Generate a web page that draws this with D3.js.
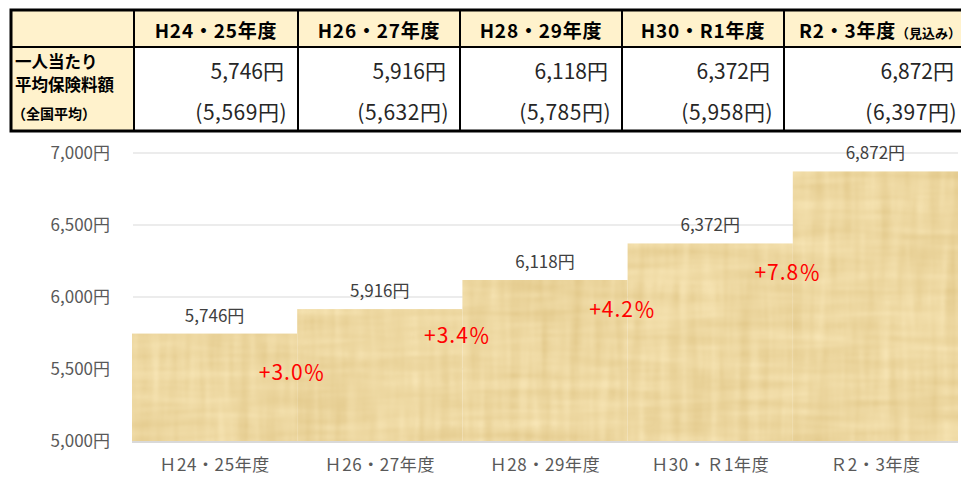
<!DOCTYPE html>
<html lang="ja">
<head>
    <meta charset="UTF-8">
    <title>一人当たり平均保険料額</title>
    <script src="https://d3js.org/d3.v7.min.js"></script>
    <style>
        body { margin: 0; background: #fff; }
        text { font-family: "Noto Sans CJK JP", "Noto Sans", sans-serif; }
        .tick text { fill: #595959; font-size: 17px; }
    </style>
</head>
<body>
<script>
    // data
    const headers = ["H24・25年度", "H26・27年度", "H28・29年度", "H30・R1年度", "R2・3年度"];
    const categories = ["Ｈ24・25年度", "Ｈ26・27年度", "Ｈ28・29年度", "Ｈ30・Ｒ1年度", "Ｒ2・3年度"];
    const premium = [5746, 5916, 6118, 6372, 6872];
    const nationalAvg = [5569, 5632, 5785, 5958, 6397];
    const growth = ["+3.0％", "+3.4％", "+4.2％", "+7.8％"];
    const yTicks = [5000, 5500, 6000, 6500, 7000];

    const width = 961, height = 478;
    const fmt = d3.format(",");

    const svg = d3.select("body").append("svg")
            .attr("width", width).attr("height", height);

    // papyrus-like texture for the bars
    const defs = svg.append("defs");
    const f = defs.append("filter").attr("id", "papyrus")
            .attr("color-interpolation-filters", "sRGB")
            .attr("x", 0).attr("y", 0).attr("width", 1).attr("height", 1);
    f.append("feTurbulence").attr("type", "fractalNoise")
            .attr("baseFrequency", "0.1 0.008").attr("numOctaves", 3).attr("seed", 4).attr("result", "v");
    f.append("feTurbulence").attr("type", "fractalNoise")
            .attr("baseFrequency", "0.008 0.1").attr("numOctaves", 3).attr("seed", 9).attr("result", "h");
    f.append("feComposite").attr("in", "v").attr("in2", "h")
            .attr("operator", "arithmetic").attr("k2", 0.5).attr("k3", 0.5).attr("result", "n0");
    f.append("feGaussianBlur").attr("in", "n0").attr("stdDeviation", 0.8).attr("result", "n");
    f.append("feColorMatrix").attr("in", "n").attr("type", "matrix")
            .attr("values", "0.14 0 0 0 0.86  0.19 0 0 0 0.75  0.28 0 0 0 0.49  0 0 0 0 1")
            .attr("result", "c");
    f.append("feComposite").attr("in", "c").attr("in2", "SourceGraphic").attr("operator", "in");

    // ---------- table ----------
    const edges = [11, 134, 298, 460, 622, 784, 968];
    const tTop = 10, tHead = 47, tBot = 131;
    const table = svg.append("g").attr("class", "table");

    table.append("rect").attr("x", edges[0]).attr("y", tTop)
            .attr("width", edges[6] - edges[0]).attr("height", tHead - tTop).attr("fill", "#FFF2CC");
    table.append("rect").attr("x", edges[0]).attr("y", tHead)
            .attr("width", edges[1] - edges[0]).attr("height", tBot - tHead).attr("fill", "#FFF2CC");

    const cols = table.selectAll("g.col").data(headers).enter().append("g").attr("class", "col");

    cols.append("text")
            .attr("x", (d, i) => (edges[i + 1] + edges[i + 2]) / 2 + (i === headers.length - 1 ? 4 : 0))
            .attr("y", 38)
            .attr("text-anchor", "middle")
            .style("font-size", "19px").style("font-weight", "bold").style("letter-spacing", "0.8px")
            .each(function(d, i) {
                const t = d3.select(this);
                t.append("tspan").text(d);
                if (i === headers.length - 1) {
                    t.append("tspan").style("font-size", "13px").style("letter-spacing", "0px").text("（見込み）");
                }
            });

    cols.append("text")
            .attr("x", (d, i) => edges[i + 2] - 14)
            .attr("y", 79)
            .attr("text-anchor", "end")
            .style("font-size", "21px").attr("fill", "#262626")
            .text((d, i) => fmt(premium[i]) + "円");

    cols.append("text")
            .attr("x", (d, i) => edges[i + 2] - 11)
            .attr("y", 120)
            .attr("text-anchor", "end")
            .style("font-size", "21px").style("letter-spacing", "0.5px").attr("fill", "#262626")
            .text((d, i) => "(" + fmt(nationalAvg[i]) + "円)");

    const rowLabel = table.append("g").style("font-weight", "bold").attr("fill", "#000");
    rowLabel.append("text").attr("x", 15).attr("y", 68).style("font-size", "16.5px").text("一人当たり");
    rowLabel.append("text").attr("x", 15).attr("y", 91).style("font-size", "16.5px").text("平均保険料額");
    rowLabel.append("text").attr("x", 12).attr("y", 119).style("font-size", "14px").text("（全国平均）");

    // grid lines of the table
    table.selectAll("line.v").data(edges.slice(1, 6)).enter().append("line")
            .attr("x1", d => d).attr("x2", d => d).attr("y1", tTop).attr("y2", tBot)
            .attr("stroke", "#000").attr("stroke-width", 2);
    table.append("line").attr("x1", edges[0]).attr("x2", edges[6]).attr("y1", tHead).attr("y2", tHead)
            .attr("stroke", "#000").attr("stroke-width", 2);
    table.append("rect").attr("x", edges[0]).attr("y", tTop)
            .attr("width", edges[6] - edges[0] + 10).attr("height", tBot - tTop)
            .attr("fill", "none").attr("stroke", "#000").attr("stroke-width", 3);

    // ---------- chart ----------
    const x = d3.scaleBand().domain(categories).range([132, 958]).padding(0);
    const y = d3.scaleLinear().domain([5000, 7000]).range([441, 153]);

    svg.append("g").attr("class", "grid")
            .selectAll("line").data(yTicks.slice(1)).enter().append("line")
            .attr("x1", 133).attr("x2", 958)
            .attr("y1", d => y(d)).attr("y2", d => y(d))
            .attr("stroke", "#D9D9D9").attr("stroke-width", 1.2);

    svg.append("g").attr("class", "bars")
            .selectAll("rect").data(premium).enter().append("rect")
            .attr("x", (d, i) => x(categories[i]))
            .attr("y", d => y(d))
            .attr("width", x.bandwidth())
            .attr("height", d => y(5000) - y(d))
            .attr("fill", "#E8D39E")
            .attr("filter", "url(#papyrus)");

    svg.append("line").attr("x1", 132).attr("x2", 958)
            .attr("y1", y(5000) + 1).attr("y2", y(5000) + 1)
            .attr("stroke", "#D9D9D9").attr("stroke-width", 2);

    const yAxis = svg.append("g")
            .attr("transform", "translate(132,0)")
            .call(d3.axisLeft(y).tickValues(yTicks).tickSize(0).tickPadding(22)
                    .tickFormat(d => fmt(d) + "円"));
    yAxis.select(".domain").remove();

    const xAxis = svg.append("g")
            .attr("transform", `translate(0,${y(5000)})`)
            .call(d3.axisBottom(x).tickSize(0).tickPadding(18));
    xAxis.select(".domain").remove();
    xAxis.selectAll(".tick text").style("letter-spacing", "0.6px");

    // value labels
    svg.append("g").selectAll("text").data(premium).enter().append("text")
            .attr("x", (d, i) => x(categories[i]) + x.bandwidth() / 2)
            .attr("y", d => y(d) - 12)
            .attr("text-anchor", "middle")
            .attr("fill", "#404040").style("font-size", "17px")
            .text(d => fmt(d) + "円");

    // growth rate labels at the step between bars
    const pctDy = [46, 34, 37, 37];
    svg.append("g").selectAll("text").data(growth).enter().append("text")
            .attr("x", (d, i) => x(categories[i + 1]) - 5)
            .attr("y", (d, i) => y(premium[i]) + pctDy[i])
            .attr("text-anchor", "middle")
            .attr("fill", "#FF0000").style("font-size", "21px").style("letter-spacing", "1px")
            .text(d => d);
</script>
</body>
</html>
